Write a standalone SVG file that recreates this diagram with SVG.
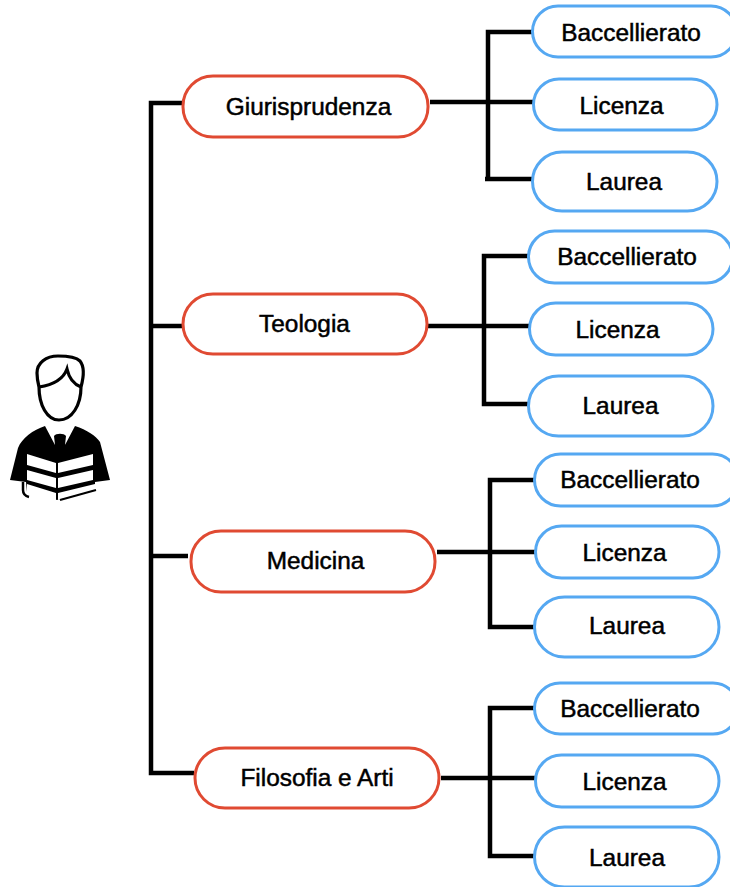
<svg xmlns="http://www.w3.org/2000/svg" width="730" height="887" viewBox="0 0 730 887">
<style>
.conn{fill:none;stroke:#000;stroke-width:4.5}
.r{fill:#fff;stroke:#e04a32;stroke-width:3}
.b{fill:#fff;stroke:#55a8f2;stroke-width:3}
.slab{fill:#fff;stroke:none}
text{font-family:"Liberation Sans",Arial,sans-serif;font-size:24.4px;fill:#000;stroke:#000;stroke-width:.5;text-anchor:middle}
</style>
<rect width="730" height="887" fill="#fff"/>
<g id="figure">
<path d="M39 387C38 383 37 378 37 373C37 363 46 356 58 356C66 356 76 357 80 361C84 366 84 376 81 387C81 405 72 420 59 420C47 420 39 405 39 387Z" fill="#fff" stroke="#000" stroke-width="3.2"/>
<path d="M39 387C52 385 63 380 67 369C69 378 73 384 81 387" fill="none" stroke="#000" stroke-width="3.2"/>
<path d="M45 426L55 445L54 436C56 433 64 433 66 436L65 445L75 426C87 430 96 436 100 442L110 480L95 482L95 490L57 500L27 492L26 482L10 480L18 448C22 438 33 430 45 426Z" fill="#000"/>
<path d="M56 444L59 446V457L52 452ZM65 444L62 446V457L69 452Z" fill="#000"/>
<path class="slab" d="M27 454L56 463V473L27 465ZM58 463L93 454V465L58 473Z"/>
<path class="slab" d="M27 470L56 478V488L27 480ZM58 478L93 470V480L58 488Z"/>
<path class="slab" d="M27 484L56 493V500H34L27 496ZM58 493L95 484V490L58 500Z"/>
<path d="M23 482V490C23 494 25 496 29 497" fill="none" stroke="#000" stroke-width="2.5"/>
<path d="M60 500L96 490" fill="none" stroke="#000" stroke-width="2"/>
</g>
<g id="connectors" class="conn">
<path d="M188 103H151V773H194M151 326H183M151 556H188"/>
<path d="M430 102H533M534 32H488V177M485 179H532"/>
<path d="M427 326H529M529 256H484V404H529"/>
<path d="M437 552H535M535 480H490V627H535"/>
<path d="M441 778H535M535 708H490V856H535"/>
</g>
<g id="n-giurisprudenza"><rect class="r" x="183" y="76" width="245" height="61" rx="30"/><text x="308.500" y="115">Giurisprudenza</text></g>
<g id="n-teologia"><rect class="r" x="183" y="294" width="244" height="60" rx="30"/><text x="304.500" y="332">Teologia</text></g>
<g id="n-medicina"><rect class="r" x="191" y="531" width="244" height="61" rx="30"/><text x="315.500" y="569">Medicina</text></g>
<g id="n-filosofia"><rect class="r" x="195" y="748" width="244" height="60" rx="30"/><text x="317" y="786">Filosofia e Arti</text></g>
<g id="n1-bacc"><rect class="b" x="532.5" y="6" width="204" height="51" rx="25.5"/><text x="631" y="41">Baccellierato</text></g>
<g id="n1-lic"><rect class="b" x="533.5" y="79" width="183.500" height="51" rx="25.5"/><text x="621.500" y="114">Licenza</text></g>
<g id="n1-lau"><rect class="b" x="532.5" y="152" width="184.500" height="59" rx="29.5"/><text x="624" y="190">Laurea</text></g>
<g id="n2-bacc"><rect class="b" x="528.5" y="231" width="204" height="52" rx="26"/><text x="627" y="265">Baccellierato</text></g>
<g id="n2-lic"><rect class="b" x="529.5" y="303" width="183.500" height="52" rx="26"/><text x="617.500" y="338">Licenza</text></g>
<g id="n2-lau"><rect class="b" x="528.5" y="376" width="184.500" height="60" rx="30"/><text x="620.500" y="414">Laurea</text></g>
<g id="n3-bacc"><rect class="b" x="534.5" y="454" width="204" height="52" rx="26"/><text x="630" y="488">Baccellierato</text></g>
<g id="n3-lic"><rect class="b" x="535.5" y="526" width="183.500" height="52" rx="26"/><text x="624.500" y="561">Licenza</text></g>
<g id="n3-lau"><rect class="b" x="534.5" y="597" width="184.500" height="60" rx="30"/><text x="627" y="634">Laurea</text></g>
<g id="n4-bacc"><rect class="b" x="534.5" y="683" width="204" height="51" rx="25.5"/><text x="630" y="717">Baccellierato</text></g>
<g id="n4-lic"><rect class="b" x="535.5" y="755" width="183.500" height="52" rx="26"/><text x="624.500" y="790">Licenza</text></g>
<g id="n4-lau"><rect class="b" x="534.5" y="827" width="184.500" height="60" rx="30"/><text x="627" y="866">Laurea</text></g>
</svg>
